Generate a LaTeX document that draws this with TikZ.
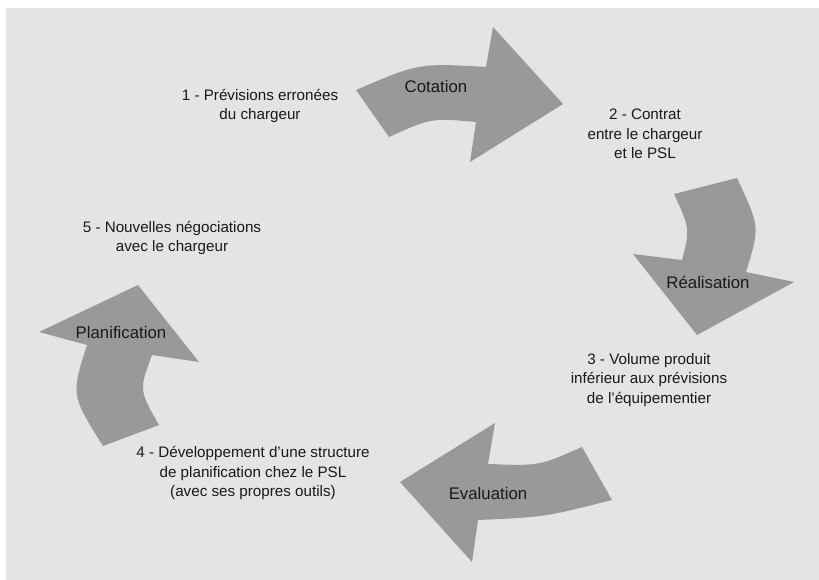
\documentclass[tikz,border=0pt]{standalone}
\usepackage{fontspec}
\setmainfont{Liberation Sans}
\begin{document}
\begin{tikzpicture}[x=1pt,y=-1pt,
  bodytext/.style={align=center,text=black!90,font=\fontsize{15.2}{19.5}\selectfont,inner sep=0pt},
  arrowlabel/.style={text=black!90,font=\fontsize{16.8}{19}\selectfont,inner sep=0pt},
  cyclearrow/.style={fill=black!40,draw=none}]
\useasboundingbox (0,0) rectangle (819,580);
\fill[white] (0,0) rectangle (819,580);
\fill[black!10.5] (6,8) rectangle (819,580);

% Cotation arrow (top)
\path[cyclearrow] (356,90) .. controls (419,63) .. (486,67)
  -- (493,27) -- (563,104) -- (470,162) -- (476,122)
  .. controls (431,118) .. (389,137) -- cycle;
% Realisation arrow (right)
\path[cyclearrow] (674,194) -- (737,178) .. controls (760,227) .. (746,272)
  -- (794,282) -- (697,335) -- (633,254) -- (682,260)
  .. controls (690,229) .. cycle;
% Evaluation arrow (bottom)
\path[cyclearrow] (400,482) -- (495,423) -- (488,464)
  .. controls (539,466) .. (582,447) -- (612,500)
  .. controls (545,517) .. (478,520) -- (472,562) -- cycle;
% Planification arrow (left)
\path[cyclearrow] (39,332) -- (138,285) -- (199,362) -- (152,355)
  .. controls (139,390) .. (159,425) -- (103,446)
  .. controls (71,395) .. (87,345) -- cycle;

% Labels on the arrows
\node[arrowlabel] (cotation) at (436,86) {Cotation};
\node[arrowlabel] (realisation) at (708,282) {Réalisation};
\node[arrowlabel] (evaluation) at (488,493) {Evaluation};
\node[arrowlabel] (planification) at (121,332) {Planification};

% Steps of the cycle
\node[bodytext] (s1) at (260,106) {1 - Prévisions erronées\\du chargeur};
\node[bodytext] (s2) at (645,134) {2 - Contrat\\entre le chargeur\\et le PSL};
\node[bodytext] (s3) at (649,380) {3 - Volume produit\\inférieur aux prévisions\\de l’équipementier};
\node[bodytext] (s4) at (253,473) {4 - Développement d’une structure\\de planification chez le PSL\\(avec ses propres outils)};
\node[bodytext] (s5) at (172,238) {5 - Nouvelles négociations\\avec le chargeur};
\end{tikzpicture}
\end{document}
